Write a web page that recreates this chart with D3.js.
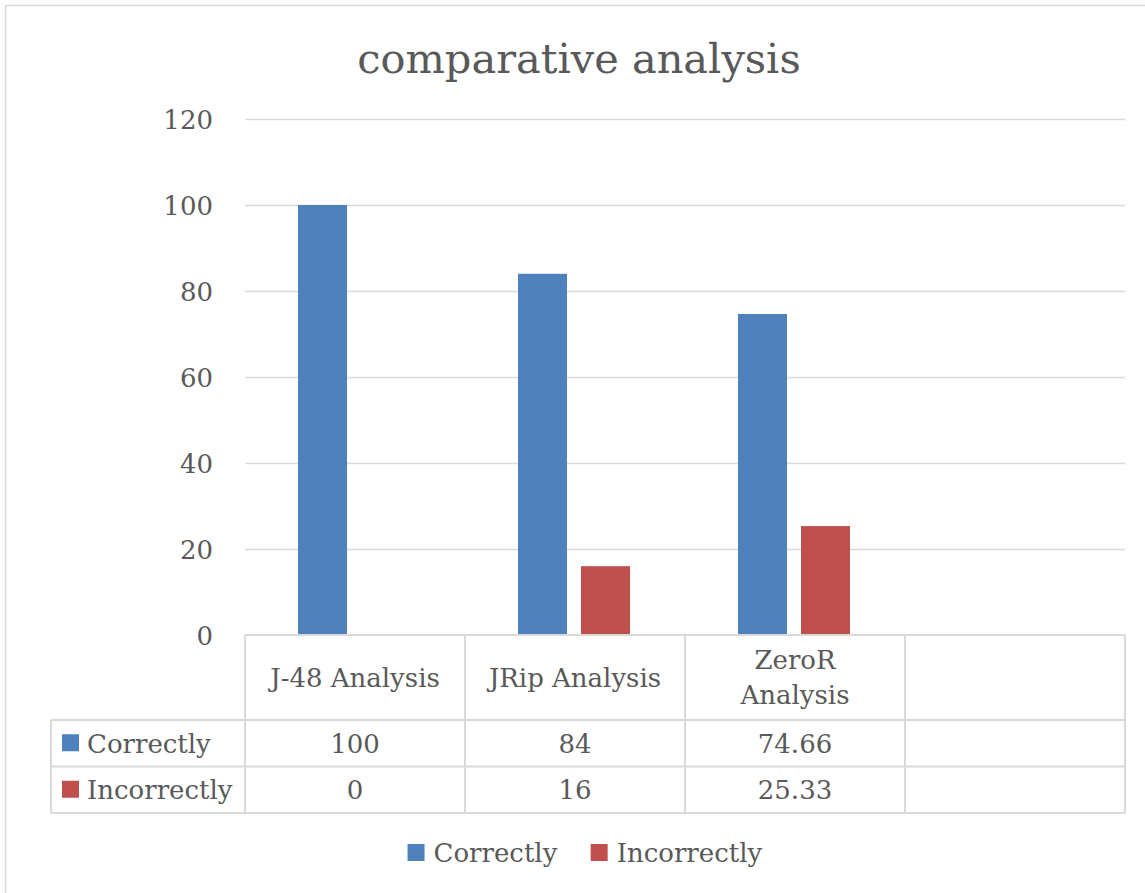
<!DOCTYPE html>
<html>
<head>
<meta charset="utf-8">
<script src="https://cdn.jsdelivr.net/npm/d3@7"></script>
<style>
  html, body { margin: 0; padding: 0; background: #fff; }
  svg text { font-family: "DejaVu Serif", "Liberation Serif", serif; fill: #595959; }
</style>
</head>
<body>
<svg id="chart" width="1145" height="893"></svg>
<script>
// Chart data
const title = "comparative analysis";
const categories = ["J-48 Analysis", "JRip Analysis", "ZeroR Analysis", ""];
const seriesNames = ["Correctly", "Incorrectly"];
const correctly = [100, 84, 74.66, null];
const incorrectly = [0, 16, 25.33, null];
const tableText = [["100", "84", "74.66", ""], ["0", "16", "25.33", ""]];
const yTicks = [0, 20, 40, 60, 80, 100, 120];
const colors = ["#4f81bd", "#c0504d"];

const seriesValues = [correctly, incorrectly];

const svg = d3.select("#chart");
const gridColor = "#d9d9d9";
const fontSize = 26;

// Outer chart frame
svg.append("rect")
  .attr("x", 5.5).attr("y", 5.5)
  .attr("width", 1160).attr("height", 900)
  .attr("fill", "none").attr("stroke", gridColor).attr("stroke-width", 1.5);

// Title
svg.append("text")
  .attr("x", 579).attr("y", 73)
  .attr("text-anchor", "middle")
  .style("font-size", "41.5px")
  .text(title);

// Scales
const plot = { left: 245, right: 1125, top: 119, bottom: 635 };
const x0 = d3.scaleBand().domain(categories).range([plot.left, plot.right]);
const x1 = d3.scaleBand().domain(seriesNames).range([53, 165]).paddingInner(14 / 63);
const y = d3.scaleLinear().domain([0, 120]).range([plot.bottom, plot.top]);

// Gridlines and y tick labels via axis
const yAxis = d3.axisLeft(y).tickValues(yTicks).tickSize(-(plot.right - plot.left)).tickPadding(32);
const gy = svg.append("g").attr("transform", `translate(${plot.left},0)`).call(yAxis);
gy.select(".domain").remove();
gy.selectAll(".tick line")
  .attr("stroke", d => d === 0 ? "none" : gridColor)
  .attr("stroke-width", 1.3);
gy.selectAll(".tick text")
  .attr("fill", "#595959")
  .style("font-family", '"DejaVu Serif", "Liberation Serif", serif')
  .style("font-size", fontSize + "px")
  .attr("dy", "0.36em");

// Bars
const barData = [];
categories.forEach((c, i) => {
  seriesNames.forEach((s, j) => {
    const v = seriesValues[j][i];
    if (v != null) barData.push({ c, s, v, j });
  });
});
svg.append("g").selectAll("rect")
  .data(barData)
  .join("rect")
  .attr("x", d => x0(d.c) + x1(d.s))
  .attr("width", x1.bandwidth())
  .attr("y", d => y(d.v))
  .attr("height", d => y(0) - y(d.v))
  .attr("fill", d => colors[d.j]);

// Data table
const table = svg.append("g");
const headerTop = plot.bottom, headerBottom = 720;
const rowH = 46.5;
const tableLeft = 51;
const rowTops = [headerBottom, headerBottom + rowH];
const tableBottom = headerBottom + 2 * rowH;
const lineAttrs = sel => sel.attr("stroke", gridColor).attr("stroke-width", 2);

// horizontal lines
table.append("line").attr("x1", plot.left).attr("x2", plot.right).attr("y1", headerTop).attr("y2", headerTop).call(lineAttrs);
[headerBottom, headerBottom + rowH, tableBottom].forEach(yy => {
  table.append("line").attr("x1", tableLeft).attr("x2", plot.right).attr("y1", yy).attr("y2", yy).call(lineAttrs);
});
// vertical lines
table.append("line").attr("x1", tableLeft).attr("x2", tableLeft).attr("y1", headerBottom).attr("y2", tableBottom).call(lineAttrs);
categories.forEach(c => {
  const xx = x0(c);
  table.append("line").attr("x1", xx).attr("x2", xx).attr("y1", headerTop).attr("y2", tableBottom).call(lineAttrs);
});
table.append("line").attr("x1", plot.right).attr("x2", plot.right).attr("y1", headerTop).attr("y2", tableBottom).call(lineAttrs);

// category header labels (wrapped if too wide for the cell)
categories.forEach(c => {
  const cx = x0(c) + x0.bandwidth() / 2;
  const t = table.append("text")
    .attr("x", cx).attr("text-anchor", "middle")
    .style("font-size", fontSize + "px");
  t.text(c);
  const maxW = x0.bandwidth() - 36;
  let lines = [c];
  if (t.node().getComputedTextLength() > maxW) lines = c.split(" ");
  t.text(null);
  const lh = 35;
  const mid = (headerTop + headerBottom) / 2;
  lines.forEach((ln, k) => {
    t.append("tspan")
      .attr("x", cx)
      .attr("y", mid + (k - (lines.length - 1) / 2) * lh)
      .attr("dy", "0.36em")
      .text(ln);
  });
});

// series rows
seriesNames.forEach((s, j) => {
  const mid = rowTops[j] + rowH / 2;
  table.append("rect")
    .attr("x", 62).attr("y", mid - 9).attr("width", 17).attr("height", 17)
    .attr("fill", colors[j]);
  table.append("text")
    .attr("x", 87).attr("y", mid).attr("dy", "0.36em")
    .style("font-size", fontSize + "px")
    .text(s);
  categories.forEach((c, i) => {
    table.append("text")
      .attr("x", x0(c) + x0.bandwidth() / 2).attr("y", mid).attr("dy", "0.36em")
      .attr("text-anchor", "middle")
      .style("font-size", fontSize + "px")
      .text(tableText[j][i]);
  });
});

// Legend
const legend = svg.append("g");
const legendItems = legend.selectAll("g").data(seriesNames).join("g");
legendItems.append("rect")
  .attr("width", 17).attr("height", 17).attr("y", -9)
  .attr("fill", (d, i) => colors[i]);
legendItems.append("text")
  .attr("x", 26).attr("dy", "0.36em")
  .style("font-size", fontSize + "px")
  .text(d => d);
// lay out legend entries centered horizontally
const widths = [];
legendItems.each(function () { widths.push(this.getBBox().width); });
const gap = 33;
const total = d3.sum(widths) + gap * (widths.length - 1);
const startX = 585 - total / 2;
legendItems.attr("transform", (d, i) => {
  const xx = startX + d3.sum(widths.slice(0, i)) + gap * i;
  return `translate(${xx},853)`;
});
</script>
</body>
</html>
